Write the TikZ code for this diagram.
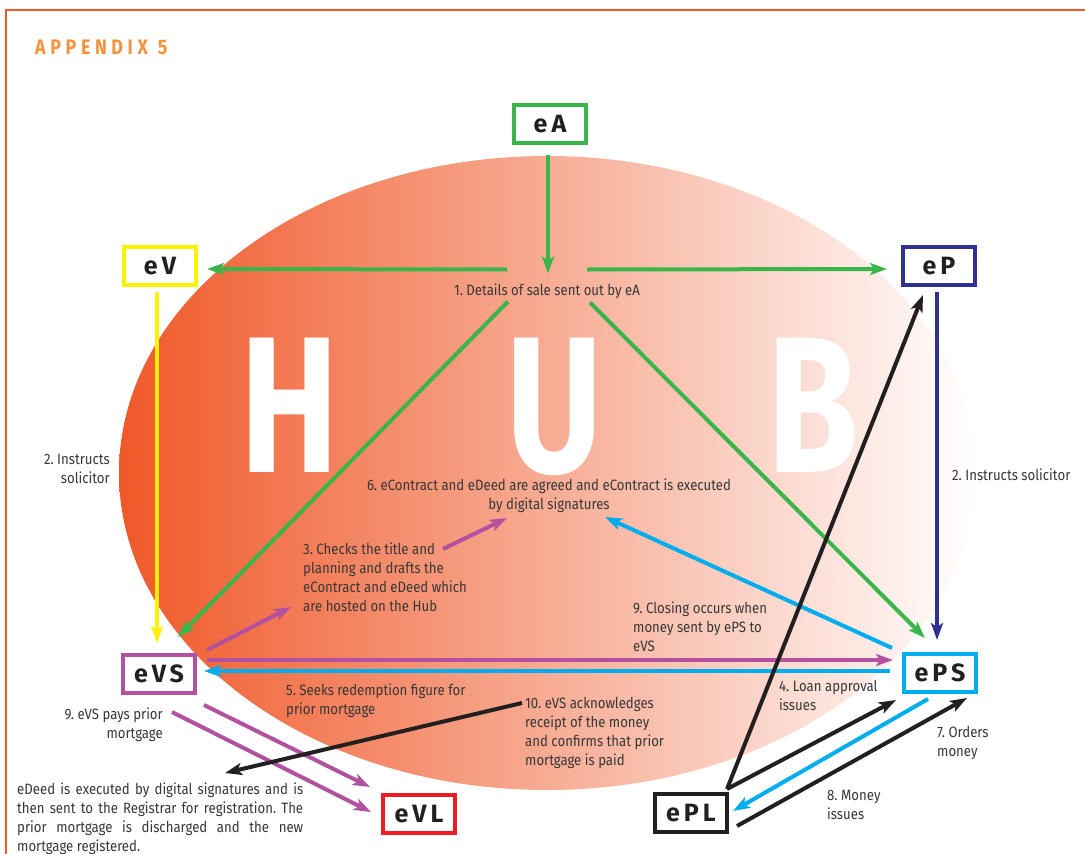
\documentclass[tikz,border=0pt]{standalone}
\usepackage{fontspec}
\setmainfont[FakeStretch=0.88]{Fira Sans}
\newfontfamily\boxfont[LetterSpace=16]{Fira Sans}
\newfontfamily\hubfont[FakeStretch=0.76]{Fira Sans}
\newfontfamily\titlefont[LetterSpace=22,FakeStretch=0.85]{Fira Sans}
\usepackage{xcolor}
\usepackage{tikz}
\usetikzlibrary{arrows.meta}
\definecolor{hubred}{RGB}{240,88,40}
\definecolor{hubmid}{RGB}{246,160,122}
\definecolor{framered}{RGB}{241,90,41}
\definecolor{titleorange}{RGB}{246,146,58}
\definecolor{agreen}{RGB}{57,181,74}
\definecolor{vyellow}{RGB}{255,242,0}
\definecolor{pnavy}{RGB}{46,49,146}
\definecolor{vspurple}{RGB}{180,80,160}
\definecolor{pscyan}{RGB}{0,174,239}
\definecolor{vlred}{RGB}{237,28,36}
\definecolor{plblack}{RGB}{35,31,32}
\definecolor{txtgray}{RGB}{55,55,55}
\frenchspacing

\begin{document}
\begin{tikzpicture}[x=1pt,y=-1pt,
	flow/.style={draw=#1,line width=4pt,-{Stealth[length=17pt,width=12pt,inset=4pt]}},
	hubbox/.style={draw=#1,line width=4pt,fill=white,minimum width=72pt,minimum height=38pt,
		inner sep=0pt,text=plblack,font={\boxfont\bfseries\fontsize{25}{25}\selectfont}},
	lbl/.style={inner sep=0pt,text=txtgray,font={\fontsize{15}{19}\selectfont}}]
	\useasboundingbox (0,0) rectangle (1085,854);
	\draw[framered,line width=1.5pt] (1090,10) -- (6,10) -- (6,860);
	\node[anchor=base west,inner sep=0pt,text=titleorange,
	font={\titlefont\bfseries\fontsize{21}{21}\selectfont}] (title) at (35,54) {APPENDIX\hspace{10pt}5};
	
	\shade[left color=hubred,middle color=hubmid,right color=white] (547,473) ellipse [x radius=428pt,y radius=317pt];
	\foreach \l/\x in {H/290,U/554,B/813}{
		\node[anchor=base,inner sep=0pt,text=white,font={\hubfont\bfseries\fontsize{194}{194}\selectfont}]
		(hub\l) at (\x,472) {\l};
	}
	
	% texts
	\node[lbl,anchor=north] (sale) at (547,283.5) {1. Details of sale sent out by eA};
	\node[lbl,anchor=north,align=center] (agree) at (549,478.5) {6. eContract and eDeed are agreed and eContract is executed\\by digital signatures};
	\node[lbl,anchor=north west,align=left] (checks) at (303,542.5) {3. Checks the title and\\planning and drafts the\\eContract and eDeed which\\are hosted on the Hub};
	\node[lbl,anchor=north west,align=left] (closing) at (633,601.5) {9. Closing occurs when\\money sent by ePS to\\eVS};
	\node[lbl,anchor=north west,align=left] (redeem) at (286,683.5) {5. Seeks redemption figure for\\prior mortgage};
	\node[lbl,anchor=north west,align=left] (ack) at (525,697.5) {10. eVS acknowledges\\receipt of the money\\and confirms that prior\\mortgage is paid};
	\node[lbl,anchor=north west,align=left] (loan) at (779,680.5) {4. Loan approval\\issues};
	\node[lbl,anchor=north west,align=left] (orders) at (937,726.5) {7. Orders\\money};
	\node[lbl,anchor=north west,align=left] (money) at (827,789.5) {8. Money\\issues};
	\node[lbl,anchor=north east,align=right] (instrV) at (110,453.5) {2. Instructs\\solicitor};
	\node[lbl,anchor=north west] (instrP) at (952,468.5) {2. Instructs solicitor};
	\node[lbl,anchor=north east,align=right] (pays) at (163,707.5) {9. eVS pays prior\\mortgage};
	\node[lbl,anchor=north west,text width=286pt,align=justify] (edeed) at (17,782.5) {eDeed is executed by digital signatures and is\linebreak then sent to the Registrar for registration. The\linebreak prior mortgage is discharged and the new\linebreak mortgage registered.};
	
	% boxes
	\foreach \n/\c/\x/\y in {eA/agreen/550/124,eV/vyellow/160/266,eP/pnavy/939/266,
		eVS/vspurple/159/673.5,ePS/pscyan/940/672.5,eVL/vlred/419/814,ePL/plblack/691/813}{
		\node[hubbox=\c] (\n) at (\x,\y) {\n};
	}
	
	% 1. details of sale
	\draw[flow=agreen] ([shift={(-2,31)}]eA.center) -- ([shift={(1,-10)}]sale.north);
	\draw[flow=agreen] ([shift={(-40,-14)}]sale.north) -- ([shift={(47,3)}]eV.center);
	\draw[flow=agreen] ([shift={(40,-14)}]sale.north) -- ([shift={(-52,3)}]eP.center);
	\draw[flow=agreen] ([shift={(-39,18)}]sale.north) -- ([shift={(19,-36.5)}]eVS.center);
	\draw[flow=agreen] ([shift={(43,19)}]sale.north) -- ([shift={(-15,-34.5)}]ePS.center);
	% 2. instructs solicitor
	\draw[flow=vyellow] ([shift={(-3,26)}]eV.center) -- ([shift={(-2,-30.5)}]eVS.center);
	\draw[flow=pnavy] ([shift={(-2,26)}]eP.center) -- ([shift={(-3,-32.5)}]ePS.center);
	
	\draw[flow=vspurple] ([shift={(48,-23.5)}]eVS.center) -- ([shift={(-12,64.5)}]checks.north west);
	\draw[flow=vspurple] ([shift={(140,6.5)}]checks.north west) -- ([shift={(-42,39.5)}]agree.north);
	\draw[flow=vspurple] ([shift={(48,-13.5)}]eVS.center) -- ([shift={(-47,-12.5)}]ePS.center);
	\draw[flow=vspurple] ([shift={(45,31.5)}]eVS.center) -- ([shift={(-49,-27)}]eVL.center);
	\draw[flow=vspurple] ([shift={(9,4.5)}]pays.north east) -- ([shift={(-48,-2)}]eVL.center);
	
	\draw[flow=pscyan] ([shift={(-50,-1.5)}]ePS.center) -- ([shift={(45,-2.5)}]eVS.center);
	\draw[flow=pscyan] ([shift={(-48,-24.5)}]ePS.center) -- ([shift={(56,38.5)}]agree.north);
	\draw[flow=pscyan] ([shift={(-12,26.5)}]ePS.center) -- ([shift={(42,-2)}]ePL.center);
	
	\draw[flow=plblack] ([shift={(36,-24)}]ePL.center) -- ([shift={(-16,29)}]eP.center);
	\draw[flow=plblack] ([shift={(36,-24)}]ePL.center) -- ([shift={(-44,27.5)}]ePS.center);
	\draw[flow=plblack] ([shift={(46,13)}]ePL.center) -- ([shift={(27,25.5)}]ePS.center);
	\draw[flow=plblack] ([shift={(-3,5.5)}]ack.north west) -- ([shift={(208,-9.5)}]edeed.north west);
\end{tikzpicture}
\end{document}
